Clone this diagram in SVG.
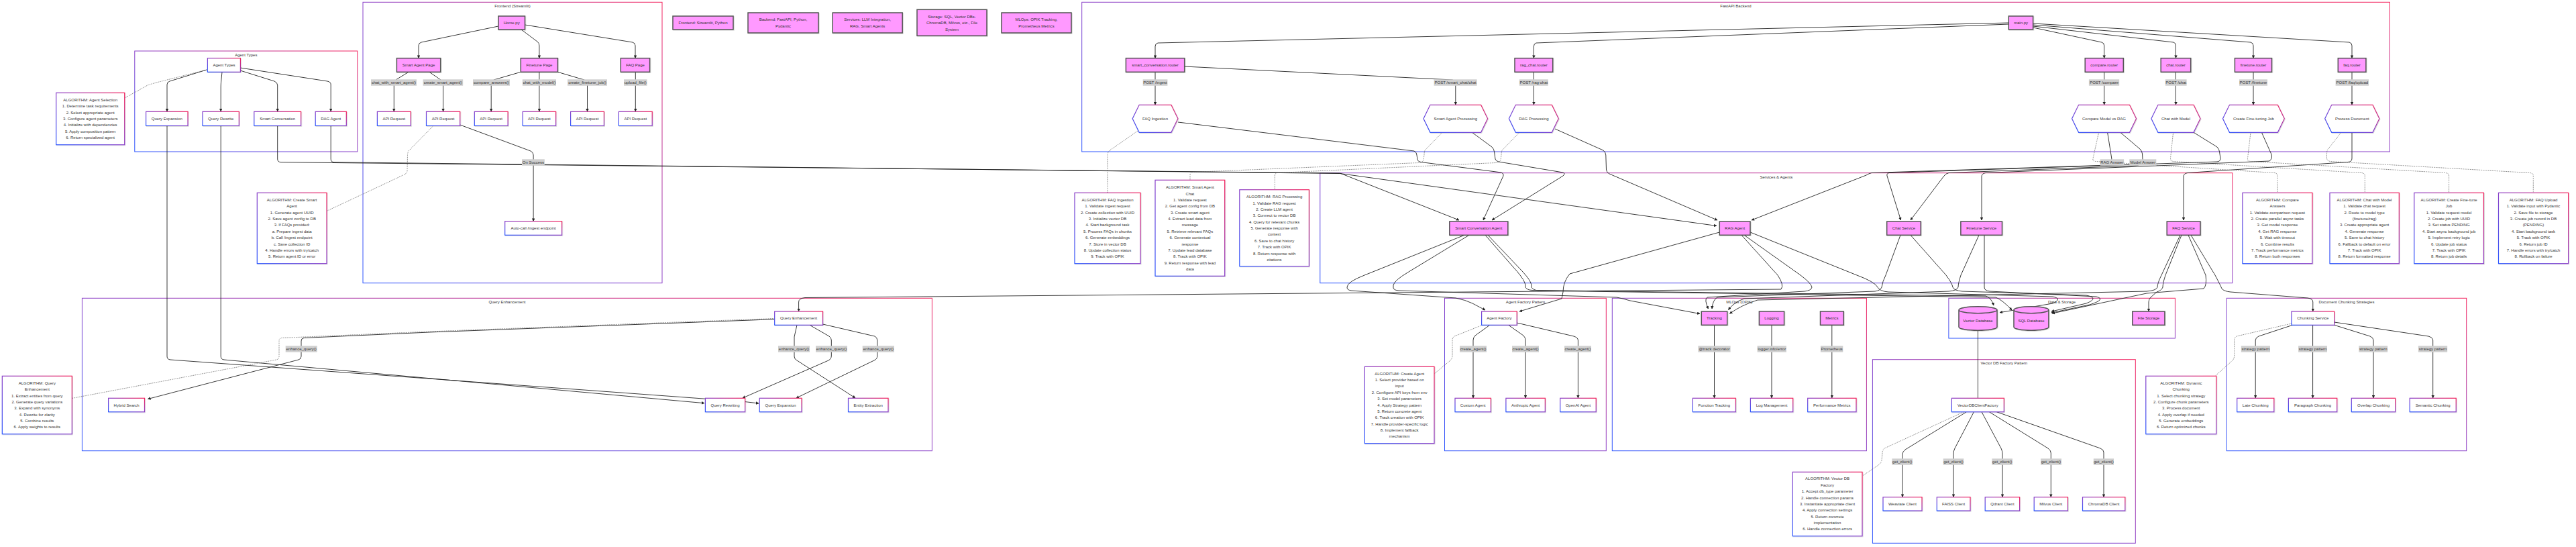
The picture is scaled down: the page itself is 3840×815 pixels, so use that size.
<svg xmlns="http://www.w3.org/2000/svg" width="3840" height="815" viewBox="0 0 3840 815">
<defs>
<linearGradient id="g" x1="0" y1="1" x2="1" y2="0"><stop offset="0" stop-color="#2b55ff"/><stop offset="0.5" stop-color="#8a3fc8"/><stop offset="1" stop-color="#f4215c"/></linearGradient>
<marker id="a" viewBox="0 0 10 10" refX="9" refY="5" markerWidth="4.5" markerHeight="4.5" markerUnits="userSpaceOnUse" orient="auto"><path d="M0,0L10,5L0,10z" fill="#222"/></marker>
<filter id="sh" x="-10%" y="-10%" width="130%" height="140%"><feDropShadow dx="0.8" dy="0.8" stdDeviation="0.6" flood-color="#000" flood-opacity="0.18"/></filter>
</defs>
<style>
.t{font-family:"Liberation Sans",Arial,sans-serif;font-size:6px;fill:#333;text-anchor:middle;dominant-baseline:central}
.cl{fill:#fff;stroke:url(#g);stroke-width:1}
.n{fill:#fff;stroke:url(#g);stroke-width:1.2;filter:url(#sh)}
.p{fill:#ff99ff;stroke:#555;stroke-width:1.5;filter:url(#sh)}
.e{fill:none;stroke:#222;stroke-width:0.9;marker-end:url(#a)}
.l{fill:none;stroke:#222;stroke-width:0.9}
.d{fill:none;stroke:#555;stroke-width:0.7;stroke-dasharray:1.5 1.2}
.lb{fill:#cfcfcf}
</style>
<rect width="3840" height="815" fill="#fff"/>

<g id="clusters">
<g id="cl-agent-types"><rect class="cl" x="200.8" y="76" width="332" height="150"/><text class="t" x="366.8" y="81.5">Agent Types</text></g>
<g id="cl-frontend"><rect class="cl" x="541" y="3.3" width="446" height="418.4"/><text class="t" x="764" y="8.5">Frontend (Streamlit)</text></g>
<g id="cl-backend"><rect class="cl" x="1612.7" y="3.3" width="1949.7" height="222.7"/><text class="t" x="2587.5" y="8.5">FastAPI Backend</text></g>
<g id="cl-services"><rect class="cl" x="1967.8" y="257.7" width="1360" height="164"/><text class="t" x="2647.8" y="263.5">Services &amp; Agents</text></g>
<g id="cl-qe"><rect class="cl" x="122.4" y="444.3" width="1267" height="227.4"/><text class="t" x="755.9" y="449.5">Query Enhancement</text></g>
<g id="cl-af"><rect class="cl" x="2153.5" y="444.3" width="240.8" height="227.4"/><text class="t" x="2273.9" y="449.5">Agent Factory Pattern</text></g>
<g id="cl-mlops"><rect class="cl" x="2403.3" y="444.3" width="379.1" height="227.4"/><text class="t" x="2592.9" y="449.5">MLOps (OPIK)</text></g>
<g id="cl-data"><rect class="cl" x="2904.9" y="444.3" width="337.5" height="59.7"/><text class="t" x="3073.6" y="449.5">Data &amp; Storage</text></g>
<g id="cl-vdbf"><rect class="cl" x="2791.4" y="535.7" width="391.9" height="273.6"/><text class="t" x="2987.3" y="541">Vector DB Factory Pattern</text></g>
<g id="cl-chunk"><rect class="cl" x="3319.2" y="444.3" width="357.5" height="227.4"/><text class="t" x="3497.9" y="449.5">Document Chunking Strategies</text></g>
</g>

<g id="edges">
<!-- Agent Types -->
<path class="e" d="M308,104 L253,121 Q249,122 249,126 L249,166"/>
<path class="e" d="M331,107.3 L329.4,124 Q329.2,127 329.2,130 L329.2,166"/>
<path class="e" d="M358,105 L409,121 Q413.7,123 413.7,127 L413.7,166"/>
<path class="e" d="M358,101 L488,121 Q493.2,122 493.2,126 L493.2,166"/>
<path class="d" d="M308,104 L245,120 Q225,125 220,127 L186,146"/>
<!-- Frontend -->
<path class="e" d="M743,39 L628,63 Q624,64 624,68 L624,86.5"/>
<path class="e" d="M777,44 L801,62 Q803.9,64 803.9,68 L803.9,86.5"/>
<path class="e" d="M782.5,37 L943,63 Q947,64 947,68 L947,86.5"/>
<path class="e" d="M609,107.3 L590,119 Q587.3,121 587.3,125 L587.3,166"/>
<path class="e" d="M640,107.3 L657,119 Q660.6,121 660.6,125 L660.6,166"/>
<path class="e" d="M776.3,107.3 L736,119 Q732.2,121 732.2,125 L732.2,166"/>
<path class="e" d="M803.9,107.3 L803.9,166"/>
<path class="e" d="M831.4,107.3 L871,119 Q875.5,121 875.5,125 L875.5,166"/>
<path class="e" d="M947.3,107.3 L947.3,166"/>
<path class="e" d="M685.7,186 L791,225 Q795.1,227 795.1,231 L795.1,329.5"/>
<path class="d" d="M646,187.3 L609,225 Q607.5,228 607.5,231 L607,255 Q606.5,258 603,260 L488,314"/>
<!-- Backend -->
<path class="e" d="M2994.3,34 L1726,64 Q1722,65 1722,69 L1722,86.5"/>
<path class="e" d="M2994.3,36 L2290,64 Q2286.4,65 2286.4,69 L2286.4,86.5"/>
<path class="e" d="M3030.6,41 L3133,63 Q3136.7,64 3136.7,68 L3136.7,86.5"/>
<path class="e" d="M3030.6,39 L3240,63 Q3243.5,64 3243.5,68 L3243.5,86.5"/>
<path class="e" d="M3030.6,37 L3355,63 Q3359,64 3359,68 L3359,86.5"/>
<path class="e" d="M3030.6,35 L3502,63 Q3506,64 3506,68 L3506,86.5"/>
<path class="e" d="M1722,107.3 L1722,156"/>
<path class="e" d="M1765.7,99 L2165,119 Q2169.8,120 2169.8,124 L2169.8,156"/>
<path class="e" d="M2286.4,107.3 L2286.4,156"/>
<path class="e" d="M3136.7,107.3 L3136.7,156"/>
<path class="e" d="M3243.5,107.3 L3243.5,156"/>
<path class="e" d="M3359,107.3 L3359,156"/>
<path class="e" d="M3506,107.3 L3506,156"/>
<!-- to services -->
<path class="e" d="M1756,182 L2108,225 Q2112,227 2112,231 L2113,238 Q2114,241 2118,241.5 L2238,257 Q2242,258.5 2241,262 L2211,328"/>
<path class="e" d="M2194,197 L2224,219 Q2227,222 2227.5,226 L2229,237 Q2230,240 2234,241 L2330,257 Q2334,258.5 2330,262 L2224,328"/>
<path class="e" d="M2318,192 L2390,224 Q2393.5,226.7 2393.8,231 L2394.5,253 Q2395,257 2399,259 L2560,328"/>
<path class="e" d="M413.7,187.3 L413.7,237 Q413.7,241.5 419,241.7 L1997.5,258 L2175,328"/>
<path class="e" d="M493.2,187.3 L493.2,237 Q493.2,241.5 498,241.7 L1997.5,258.5 L2559,336.5"/>
<path class="e" d="M3141.6,197.3 L3147.8,236 L3148,242 Q3140,246 3130,246.5 L2790,257.5 Q2786,258.5 2782,261 L2611,328"/>
<path class="e" d="M3160.8,197.3 L3190,222 Q3193,225 3193.5,229 L3194.3,242 Q3190,247 3180,247 L2905,257.5 Q2900.8,258.5 2898,262 L2848,328"/>
<path class="e" d="M3270,197.3 L3305,219 Q3308,222 3308.5,226 L3310,236 Q3310,240.5 3305,241 L2816,257.5 Q2812,258.5 2813,262 L2833.5,328"/>
<path class="e" d="M3371.4,197.3 L3386,230 Q3388,236 3383,240 L2960,257.5 Q2954,258.5 2954,263 L2954,328"/>
<path class="e" d="M3506,197.3 L3506,236 Q3506,241 3500,241.5 L3261,257.5 Q3255,258.5 3255,263 L3255,328"/>
<!-- dotted to notes (backend) -->
<path class="d" d="M1696,195 L1653,225 Q1651,228 1651,231 L1651,287.3"/>
<path class="d" d="M2150,197.3 L2124,224 Q2123,227 2123,231 L2122,238 Q2121,242 2115,242.5 L1778,256.5 Q1774,257 1774,261 L1774,268.3"/>
<path class="d" d="M2265,197.3 L2239,224 Q2238,227 2238,231 L2237,238 Q2236,242 2230,242.5 L1904,257.5 Q1900.4,258 1900.4,262 L1900.4,282.7"/>
<path class="d" d="M3128.6,197.3 L3120,236 Q3119,240 3124,240.5 L3390,257.5 Q3395,258 3395,262 L3395,287.3"/>
<path class="d" d="M3239.6,197.3 L3235.5,236 Q3235.5,240 3240,240.5 L3520,257.5 Q3525.3,258 3525.3,262 L3525.3,287.3"/>
<path class="d" d="M3355,197.3 L3350.5,236 Q3350,240 3355,240.5 L3645,257.5 Q3650.6,258 3650.6,262 L3650.6,287.3"/>
<path class="d" d="M3489.8,197.3 L3469,224 Q3468.5,227 3468.5,231 L3468.5,236 Q3469,240 3474,240.5 L3771,257.5 Q3776.3,258 3776.3,262 L3776.3,287.3"/>
<!-- Query enhancement -->
<path class="e" d="M249,187.3 L249,531 Q249,535.5 254,536 L1110,598.5 L1131,601"/>
<path class="e" d="M329.2,187.3 L329.2,531 Q329.2,535.5 334,536 L1050,600.7"/>
<path class="e" d="M1154.7,475.7 L640,495 L453,503.5 Q449,504 449,508 L449,531 Q449,535 445,536 L220.5,594.5"/>
<path class="e" d="M1188,484.3 L1184,502 Q1184,505 1184,508 L1184,531 Q1184,535 1188,537 L1275,593"/>
<path class="e" d="M1207,484.3 L1236,501 Q1239.3,503 1239.3,507 L1239.3,530 Q1239.3,535 1235,537 L1107,593"/>
<path class="e" d="M1226.5,483 L1304,501 Q1307.8,503 1307.8,507 L1307.8,530 Q1307.8,535 1303,537 L1187,593"/>
<path class="d" d="M1154.7,474.5 L640,494 L420,503.5 Q416,504 416,508 L416,531 Q416,535 412,536 L108,593.3"/>
<path class="e" d="M2596,350.3 L2650,410 Q2660,425 2655,431 L1200,443.5 Q1190.6,444.5 1190.6,450 L1190.6,463.8"/>
<!-- services to bottom clusters -->
<path class="e" d="M2183,350.3 L2034,410 Q2008,420 2008,428 Q2008,432 2014,433 L2170,444 Q2185,447 2195,452 L2214,462"/>
<path class="e" d="M2190,350.3 L2100,405 Q2078,418 2077,425 L2077,429 Q2078,432.5 2085,433 L2410,443 Q2420,445 2430,448 L2534,467.5"/>
<path class="e" d="M2214,350.3 L2262,405 Q2273,418 2274,425 L2274,428 Q2276,432 2284,432.5 L2960,441 Q2968,443 2972,455"/>
<path class="e" d="M2218,350.3 L2270,405 Q2282,418 2283,425 L2283,428 Q2285,432 2293,433 L2975,443 Q2985,447 2999,462"/>
<path class="e" d="M2563.3,346 L2340,408 Q2330,420 2330,435 L2328,445 L2265,464"/>
<path class="e" d="M2600,350.3 L2684,410 Q2700,422 2701,428 Q2700,433 2690,434 L2545,443 Q2540,446 2546.5,460"/>
<path class="e" d="M2609,346 L2768,410 Q2795,420 2799,428 Q2802,434 2815,435 L3060,442 Q3075,445 3060,452 L2981,465.7"/>
<path class="e" d="M2833,350.3 L2811,410 Q2806,420 2805,428 Q2803,433 2795,434 L2560,443 Q2553,447 2552,460"/>
<path class="e" d="M2848,350.3 L2901,410 Q2910,422 2911,428 Q2913,433 2925,434 L3110,440 Q3130,444 3110,452 L3058,464"/>
<path class="e" d="M2950,350.3 L2923,410 Q2919,422 2919,428 Q2917,433 2905,434 L2600,445 Q2585,450 2576.5,461.7"/>
<path class="e" d="M2958,350.3 L2958,428 Q2958,433 2966,434 L3125,442 Q3140,446 3115,454 L3058,466"/>
<path class="e" d="M3250,350.3 L3222,410 Q3216,422 3216,428 Q3214,433 3200,434 L2620,447 Q2595,455 2578.5,467.3"/>
<path class="e" d="M3252,350.3 L3228,410 Q3224,422 3224,428 Q3222,433 3215,435 L3206,443 Q3203,446 3203,450 L3203,463.8"/>
<path class="e" d="M3262,350.3 L3288,410 Q3290,425 3285,430 L3200,437 L3059,467"/>
<path class="e" d="M3266,350.3 L3302,410 Q3310,425 3312,430 Q3315,434 3325,435 L3440,444 Q3447.8,445 3447.8,450 L3447.8,463.8"/>
<!-- agent factory -->
<path class="e" d="M2220.8,484.3 L2199,500 Q2196,503 2196,507 L2196,593"/>
<path class="e" d="M2248.6,484.3 L2271,500 Q2274,503 2274,507 L2274,593"/>
<path class="e" d="M2261.2,481 L2346,501 Q2352.4,503 2352.4,507 L2352.4,593"/>
<path class="d" d="M2209.8,484.3 L2168,501 Q2165,503 2165,507 L2165,530 Q2165,534 2162,537 L2138,557"/>
<!-- mlops -->
<path class="e" d="M2555.5,484.3 L2555.5,593"/>
<path class="e" d="M2641,484.3 L2641,593"/>
<path class="e" d="M2730.8,484.3 L2730.8,593"/>
<!-- vector db -->
<path class="l" d="M2948.5,492.3 L2948.5,593.3"/>
<path class="e" d="M2931.4,613.7 L2840,670 Q2836,673 2836,677 L2836,740.5"/>
<path class="e" d="M2942.4,613.7 L2914,668 Q2912,672 2912,676 L2912,740.5"/>
<path class="e" d="M2954,613.7 L2983,668 Q2985,672 2985,676 L2985,740.5"/>
<path class="e" d="M2965.3,613.7 L3053,668 Q3057.3,671 3057.3,675 L3057.3,740.5"/>
<path class="e" d="M2976.3,613.7 L3131,668 Q3136,670 3136,674 L3136,740.5"/>
<path class="d" d="M2927.3,613.7 L2809,668 Q2806,671 2806,675 L2805,686 Q2804,690 2800,693 L2776.3,709"/>
<!-- chunking -->
<path class="e" d="M3417.6,484.3 L3367,501 Q3362.2,503 3362.2,507 L3362.2,593"/>
<path class="e" d="M3447.6,484.3 L3447.6,593"/>
<path class="e" d="M3479.6,484.3 L3533,501 Q3538,503 3538,507 L3538,593"/>
<path class="e" d="M3479.6,480 L3620,501 Q3626.7,503 3626.7,507 L3626.7,593"/>
<path class="d" d="M3416,482 L3334,501 Q3330.6,503 3330.6,507 L3330.6,530 Q3330.6,535 3327,538 L3302,560.3"/>
</g>

<g id="edge-labels">
<rect class="lb" x="553" y="118.3" width="68" height="9.4"/><text class="t" x="587" y="123">chat_with_smart_agent()</text>
<rect class="lb" x="630.6" y="118.3" width="59.6" height="9.4"/><text class="t" x="660.4" y="123">create_smart_agent()</text>
<rect class="lb" x="705" y="118.3" width="55" height="9.4"/><text class="t" x="732.5" y="123">compare_answers()</text>
<rect class="lb" x="778.8" y="118.3" width="50.2" height="9.4"/><text class="t" x="803.9" y="123">chat_with_model()</text>
<rect class="lb" x="846" y="118.3" width="59" height="9.4"/><text class="t" x="875.5" y="123">create_finetune_job()</text>
<rect class="lb" x="930" y="118.3" width="34.5" height="9.4"/><text class="t" x="947.3" y="123">upload_file()</text>
<rect class="lb" x="778" y="237.3" width="33.8" height="9.4"/><text class="t" x="794.9" y="242">On Success</text>
<rect class="lb" x="1703.7" y="118.3" width="36.7" height="9.4"/><text class="t" x="1722" y="123">POST /ingest</text>
<rect class="lb" x="2137.6" y="118.3" width="64" height="9.4"/><text class="t" x="2169.6" y="123">POST /smart_chat/chat</text>
<rect class="lb" x="2264.9" y="118.3" width="42.9" height="9.4"/><text class="t" x="2286.4" y="123">POST /rag-chat</text>
<rect class="lb" x="3113.9" y="118.3" width="45.3" height="9.4"/><text class="t" x="3136.6" y="123">POST /compare</text>
<rect class="lb" x="3227.8" y="118.3" width="31.8" height="9.4"/><text class="t" x="3243.7" y="123">POST /chat</text>
<rect class="lb" x="3338" y="118.3" width="42" height="9.4"/><text class="t" x="3359" y="123">POST /finetune</text>
<rect class="lb" x="3481.6" y="118.3" width="49.4" height="9.4"/><text class="t" x="3506.3" y="123">POST /faq/upload</text>
<rect class="lb" x="3130.6" y="237.3" width="35.5" height="9.4"/><text class="t" x="3148.3" y="242">RAG Answer</text>
<rect class="lb" x="3174.3" y="237.3" width="40" height="9.4"/><text class="t" x="3194.3" y="242">Model Answer</text>
<rect class="lb" x="425.7" y="515.3" width="47" height="9.4"/><text class="t" x="449.2" y="520">enhance_query()</text>
<rect class="lb" x="1160" y="515.3" width="47" height="9.4"/><text class="t" x="1183.5" y="520">enhance_query()</text>
<rect class="lb" x="1216" y="515.3" width="47" height="9.4"/><text class="t" x="1239.5" y="520">enhance_query()</text>
<rect class="lb" x="1285.7" y="515.3" width="47.3" height="9.4"/><text class="t" x="1309.4" y="520">enhance_query()</text>
<rect class="lb" x="2176" y="515.3" width="40" height="9.4"/><text class="t" x="2196" y="520">create_agent()</text>
<rect class="lb" x="2254" y="515.3" width="40" height="9.4"/><text class="t" x="2274" y="520">create_agent()</text>
<rect class="lb" x="2332" y="515.3" width="40" height="9.4"/><text class="t" x="2352" y="520">create_agent()</text>
<rect class="lb" x="2531.4" y="515.3" width="48.2" height="9.4"/><text class="t" x="2555.5" y="520">@track decorator</text>
<rect class="lb" x="2619.6" y="515.3" width="43.3" height="9.4"/><text class="t" x="2641.2" y="520">logger.info/error</text>
<rect class="lb" x="2713.9" y="515.3" width="33.4" height="9.4"/><text class="t" x="2730.6" y="520">Prometheus</text>
<rect class="lb" x="3340.8" y="515.3" width="43.2" height="9.4"/><text class="t" x="3362.4" y="520">strategy pattern</text>
<rect class="lb" x="3426.1" y="515.3" width="42.9" height="9.4"/><text class="t" x="3447.6" y="520">strategy pattern</text>
<rect class="lb" x="3516.3" y="515.3" width="42.9" height="9.4"/><text class="t" x="3537.8" y="520">strategy pattern</text>
<rect class="lb" x="3604.9" y="515.3" width="43.3" height="9.4"/><text class="t" x="3626.6" y="520">strategy pattern</text>
<rect class="lb" x="2820.4" y="683.3" width="30.6" height="9.4"/><text class="t" x="2835.7" y="688">get_client()</text>
<rect class="lb" x="2896.7" y="683.3" width="30.6" height="9.4"/><text class="t" x="2912" y="688">get_client()</text>
<rect class="lb" x="2969.4" y="683.3" width="30.6" height="9.4"/><text class="t" x="2984.7" y="688">get_client()</text>
<rect class="lb" x="3042" y="683.3" width="31" height="9.4"/><text class="t" x="3057.5" y="688">get_client()</text>
<rect class="lb" x="3120.8" y="683.3" width="30.2" height="9.4"/><text class="t" x="3135.9" y="688">get_client()</text>
</g>

<g id="legend">
<g id="lg-frontend"><rect class="p" x="1003" y="24" width="90" height="20"/><text class="t" x="1048" y="34">Frontend: Streamlit, Python</text></g>
<g id="lg-backend"><rect class="p" x="1115" y="19" width="105" height="30"/><text class="t"><tspan x="1167.5" y="29">Backend: FastAPI, Python,</tspan><tspan x="1167.5" y="39">Pydantic</tspan></text></g>
<g id="lg-services"><rect class="p" x="1241.2" y="19" width="104" height="30"/><text class="t"><tspan x="1293.2" y="29">Services: LLM Integration,</tspan><tspan x="1293.2" y="39">RAG, Smart Agents</tspan></text></g>
<g id="lg-storage"><rect class="p" x="1367" y="14.3" width="104" height="39"/><text class="t"><tspan x="1419" y="25">Storage: SQL, Vector DBs-</tspan><tspan x="1419" y="34">ChromaDB, Milvus, etc., File</tspan><tspan x="1419" y="44">System</tspan></text></g>
<g id="lg-mlops"><rect class="p" x="1493" y="19" width="104" height="30"/><text class="t"><tspan x="1545" y="29">MLOps: OPIK Tracking,</tspan><tspan x="1545" y="39">Prometheus Metrics</tspan></text></g>
</g>

<g id="nodes">
<g id="at-root"><rect class="n" x="309.4" y="86.7" width="49" height="20.6"/><text class="t" x="334" y="97">Agent Types</text></g>
<g id="at-qexp"><rect class="n" x="217.6" y="166.3" width="62.4" height="21"/><text class="t" x="248.8" y="176.8">Query Expansion</text></g>
<g id="at-qrw"><rect class="n" x="302" y="166.3" width="54.3" height="21"/><text class="t" x="329.2" y="176.8">Query Rewrite</text></g>
<g id="at-sc"><rect class="n" x="378.8" y="166.3" width="69.8" height="21"/><text class="t" x="413.7" y="176.8">Smart Conversation</text></g>
<g id="at-rag"><rect class="n" x="470.2" y="166.3" width="46.1" height="21"/><text class="t" x="493.2" y="176.8">RAG Agent</text></g>

<g id="fe-home"><rect class="p" x="742.9" y="24" width="39.6" height="20"/><text class="t" x="762.7" y="34">Home.py</text></g>
<g id="fe-sap"><rect class="p" x="591.4" y="86.7" width="65.3" height="20.6"/><text class="t" x="624" y="97">Smart Agent Page</text></g>
<g id="fe-ftp"><rect class="p" x="776.3" y="86.7" width="55.1" height="20.6"/><text class="t" x="803.9" y="97">Finetune Page</text></g>
<g id="fe-faqp"><rect class="p" x="925.3" y="86.7" width="43.3" height="20.6"/><text class="t" x="947" y="97">FAQ Page</text></g>
<g id="fe-api1"><rect class="n" x="562.4" y="166.3" width="49.8" height="21"/><text class="t" x="587.3" y="176.8">API Request</text></g>
<g id="fe-api2"><rect class="n" x="635.5" y="166.3" width="50.2" height="21"/><text class="t" x="660.6" y="176.8">API Request</text></g>
<g id="fe-api3"><rect class="n" x="707.3" y="166.3" width="49.8" height="21"/><text class="t" x="732.2" y="176.8">API Request</text></g>
<g id="fe-api4"><rect class="n" x="779.2" y="166.3" width="49.4" height="21"/><text class="t" x="803.9" y="176.8">API Request</text></g>
<g id="fe-api5"><rect class="n" x="850.6" y="166.3" width="49.8" height="21"/><text class="t" x="875.5" y="176.8">API Request</text></g>
<g id="fe-api6"><rect class="n" x="922.4" y="166.3" width="49.8" height="21"/><text class="t" x="947.3" y="176.8">API Request</text></g>
<g id="fe-autocall"><rect class="n" x="752.7" y="329.7" width="84.9" height="20.6"/><text class="t" x="795.1" y="340">Auto-call /ingest endpoint</text></g>

<g id="be-main"><rect class="p" x="2994.3" y="24" width="36.3" height="20"/><text class="t" x="3012.5" y="34">main.py</text></g>
<g id="be-scr"><rect class="p" x="1678.4" y="86.7" width="87.3" height="20.6"/><text class="t" x="1722" y="97">smart_conversation.router</text></g>
<g id="be-rcr"><rect class="p" x="2258" y="86.7" width="56.7" height="20.6"/><text class="t" x="2286.4" y="97">rag_chat.router</text></g>
<g id="be-cmpr"><rect class="p" x="3108.2" y="86.7" width="57.1" height="20.6"/><text class="t" x="3136.7" y="97">compare.router</text></g>
<g id="be-chr"><rect class="p" x="3221.2" y="86.7" width="44.5" height="20.6"/><text class="t" x="3243.5" y="97">chat.router</text></g>
<g id="be-ftr"><rect class="p" x="3331.4" y="86.7" width="55.1" height="20.6"/><text class="t" x="3359" y="97">finetune.router</text></g>
<g id="be-faqr"><rect class="p" x="3485.3" y="86.7" width="41.6" height="20.6"/><text class="t" x="3506" y="97">faq.router</text></g>
<g id="hx-faqi"><polygon class="n" points="1698.2,156.3 1745.9,156.3 1755.9,176.8 1745.9,197.3 1698.2,197.3 1688.2,176.8"/><text class="t" x="1722" y="176.8">FAQ Ingestion</text></g>
<g id="hx-sap"><polygon class="n" points="2132,156.3 2207.6,156.3 2217.6,176.8 2207.6,197.3 2132,197.3 2122,176.8"/><text class="t" x="2169.8" y="176.8">Smart Agent Processing</text></g>
<g id="hx-rag"><polygon class="n" points="2259.4,156.3 2313.3,156.3 2323.3,176.8 2313.3,197.3 2259.4,197.3 2249.4,176.8"/><text class="t" x="2286.4" y="176.8">RAG Processing</text></g>
<g id="hx-cmp"><polygon class="n" points="3098.6,156.3 3174.5,156.3 3184.5,176.8 3174.5,197.3 3098.6,197.3 3088.6,176.8"/><text class="t" x="3136.5" y="176.8">Compare Model vs RAG</text></g>
<g id="hx-chat"><polygon class="n" points="3216.9,156.3 3270,156.3 3280,176.8 3270,197.3 3216.9,197.3 3206.9,176.8"/><text class="t" x="3243.5" y="176.8">Chat with Model</text></g>
<g id="hx-ft"><polygon class="n" points="3323.5,156.3 3395.3,156.3 3405.3,176.8 3395.3,197.3 3323.5,197.3 3313.5,176.8"/><text class="t" x="3359.4" y="176.8">Create Fine-tuning Job</text></g>
<g id="hx-doc"><polygon class="n" points="3475.7,156.3 3536.9,156.3 3546.9,176.8 3536.9,197.3 3475.7,197.3 3465.7,176.8"/><text class="t" x="3506.3" y="176.8">Process Document</text></g>

<g id="sv-sca"><rect class="p" x="2160.8" y="330" width="87" height="20.3"/><text class="t" x="2204.3" y="340.2">Smart Conversation Agent</text></g>
<g id="sv-rag"><rect class="p" x="2563.3" y="330" width="45.7" height="20.3"/><text class="t" x="2586.1" y="340.2">RAG Agent</text></g>
<g id="sv-chat"><rect class="p" x="2812.7" y="330" width="50.6" height="20.3"/><text class="t" x="2838" y="340.2">Chat Service</text></g>
<g id="sv-ft"><rect class="p" x="2922.9" y="330" width="61.6" height="20.3"/><text class="t" x="2953.7" y="340.2">Finetune Service</text></g>
<g id="sv-faq"><rect class="p" x="3230.2" y="330" width="49.8" height="20.3"/><text class="t" x="3255.1" y="340.2">FAQ Service</text></g>

<g id="qe-root"><rect class="n" x="1154.7" y="464" width="71.8" height="20.3"/><text class="t" x="1190.6" y="474.2">Query Enhancement</text></g>
<g id="qe-hybrid"><rect class="n" x="161.6" y="593.3" width="53.9" height="20.4"/><text class="t" x="188.6" y="603.5">Hybrid Search</text></g>
<g id="qe-rw"><rect class="n" x="1051.4" y="593.3" width="59.2" height="20.4"/><text class="t" x="1081" y="603.5">Query Rewriting</text></g>
<g id="qe-exp"><rect class="n" x="1132.2" y="593.3" width="62.8" height="20.4"/><text class="t" x="1163.6" y="603.5">Query Expansion</text></g>
<g id="qe-ent"><rect class="n" x="1264.5" y="593.3" width="59.5" height="20.4"/><text class="t" x="1294.2" y="603.5">Entity Extraction</text></g>

<g id="af-root"><rect class="n" x="2208.6" y="464" width="52.6" height="20.3"/><text class="t" x="2234.9" y="474.2">Agent Factory</text></g>
<g id="af-custom"><rect class="n" x="2169" y="593.3" width="53.4" height="20.4"/><text class="t" x="2195.7" y="603.5">Custom Agent</text></g>
<g id="af-anth"><rect class="n" x="2244.9" y="593.3" width="58.4" height="20.4"/><text class="t" x="2274.1" y="603.5">Anthropic Agent</text></g>
<g id="af-openai"><rect class="n" x="2325.7" y="593.3" width="53.5" height="20.4"/><text class="t" x="2352.4" y="603.5">OpenAI Agent</text></g>

<g id="ml-track"><rect class="p" x="2536.3" y="464" width="38.4" height="20.3"/><text class="t" x="2555.5" y="474.2">Tracking</text></g>
<g id="ml-log"><rect class="p" x="2622.4" y="464" width="37.2" height="20.3"/><text class="t" x="2641" y="474.2">Logging</text></g>
<g id="ml-met"><rect class="p" x="2713.5" y="464" width="34.7" height="20.3"/><text class="t" x="2730.8" y="474.2">Metrics</text></g>
<g id="ml-ft"><rect class="n" x="2523.3" y="593.3" width="64" height="20.4"/><text class="t" x="2555.3" y="603.5">Function Tracking</text></g>
<g id="ml-lm"><rect class="n" x="2609.4" y="593.3" width="63.3" height="20.4"/><text class="t" x="2641" y="603.5">Log Management</text></g>
<g id="ml-pm"><rect class="n" x="2694.7" y="593.3" width="72.3" height="20.4"/><text class="t" x="2730.8" y="603.5">Performance Metrics</text></g>

<g id="ds-vdb"><path class="p" d="M2920,461.7 a28.5,5 0 0 0 57,0 a28.5,5 0 0 0 -57,0 l0,25.6 a28.5,5 0 0 0 57,0 l0,-25.6"/><text class="t" x="2948.5" y="477.7">Vector Database</text></g>
<g id="ds-sql"><path class="p" d="M3002,461.7 a25.95,5 0 0 0 51.9,0 a25.95,5 0 0 0 -51.9,0 l0,25.6 a25.95,5 0 0 0 51.9,0 l0,-25.6"/><text class="t" x="3028" y="477.7">SQL Database</text></g>
<g id="ds-file"><rect class="p" x="3178.8" y="464" width="48.1" height="20.3"/><text class="t" x="3202.9" y="474.2">File Storage</text></g>

<g id="vf-root"><rect class="n" x="2909.4" y="593.3" width="77.9" height="20.4"/><text class="t" x="2948.3" y="603.5">VectorDBClientFactory</text></g>
<g id="vf-weav"><rect class="n" x="2807" y="740.7" width="58" height="20.3"/><text class="t" x="2836" y="750.9">Weaviate Client</text></g>
<g id="vf-faiss"><rect class="n" x="2887.3" y="740.7" width="49.7" height="20.3"/><text class="t" x="2912.1" y="750.9">FAISS Client</text></g>
<g id="vf-qdrant"><rect class="n" x="2959.2" y="740.7" width="51.4" height="20.3"/><text class="t" x="2984.9" y="750.9">Qdrant Client</text></g>
<g id="vf-milvus"><rect class="n" x="3032.2" y="740.7" width="50.2" height="20.3"/><text class="t" x="3057.3" y="750.9">Milvus Client</text></g>
<g id="vf-chroma"><rect class="n" x="3104.5" y="740.7" width="63.3" height="20.3"/><text class="t" x="3136.1" y="750.9">ChromaDB Client</text></g>

<g id="ch-root"><rect class="n" x="3416" y="464" width="63.6" height="20.3"/><text class="t" x="3447.8" y="474.2">Chunking Service</text></g>
<g id="ch-late"><rect class="n" x="3334.7" y="593.3" width="55.1" height="20.4"/><text class="t" x="3362.2" y="603.5">Late Chunking</text></g>
<g id="ch-para"><rect class="n" x="3411.4" y="593.3" width="72.3" height="20.4"/><text class="t" x="3447.6" y="603.5">Paragraph Chunking</text></g>
<g id="ch-over"><rect class="n" x="3505.3" y="593.3" width="65.3" height="20.4"/><text class="t" x="3538" y="603.5">Overlap Chunking</text></g>
<g id="ch-sem"><rect class="n" x="3592.2" y="593.3" width="69" height="20.4"/><text class="t" x="3626.7" y="603.5">Semantic Chunking</text></g>
</g>

<g id="notes">
<g id="nt-agent-sel"><rect class="n" x="83.7" y="138.3" width="102" height="77.4"/><text class="t"><tspan x="134.7" y="149">ALGORITHM: Agent Selection</tspan><tspan x="134.7" y="158">1. Determine task requirements</tspan><tspan x="134.7" y="168">2. Select appropriate agent</tspan><tspan x="134.7" y="177">3. Configure agent parameters</tspan><tspan x="134.7" y="186">4. Initialize with dependencies</tspan><tspan x="134.7" y="196">5. Apply composition pattern</tspan><tspan x="134.7" y="205">6. Return specialized agent</tspan></text></g>
<g id="nt-create-smart"><rect class="n" x="383.3" y="287.3" width="103.7" height="105.4"/><text class="t"><tspan x="435.2" y="297.7">ALGORITHM: Create Smart</tspan><tspan x="435.2" y="307">Agent</tspan><tspan x="435.2" y="316.7">1. Generate agent UUID</tspan><tspan x="435.2" y="326">2. Save agent config to DB</tspan><tspan x="435.2" y="335">3. If FAQs provided:</tspan><tspan x="435.2" y="345">a. Prepare ingest data</tspan><tspan x="435.2" y="354">b. Call /ingest endpoint</tspan><tspan x="435.2" y="364">c. Save collection ID</tspan><tspan x="435.2" y="373">4. Handle errors with try/catch</tspan><tspan x="435.2" y="382">5. Return agent ID or error</tspan></text></g>
<g id="nt-faq-ingest"><rect class="n" x="1602" y="287.3" width="98" height="105.4"/><text class="t"><tspan x="1651" y="297.7">ALGORITHM: FAQ Ingestion</tspan><tspan x="1651" y="307">1. Validate ingest request</tspan><tspan x="1651" y="316.7">2. Create collection with UUID</tspan><tspan x="1651" y="326">3. Initialize vector DB</tspan><tspan x="1651" y="335">4. Start background task</tspan><tspan x="1651" y="345">5. Process FAQs in chunks</tspan><tspan x="1651" y="354">6. Generate embeddings</tspan><tspan x="1651" y="364">7. Store in vector DB</tspan><tspan x="1651" y="373">8. Update collection status</tspan><tspan x="1651" y="382">9. Track with OPIK</tspan></text></g>
<g id="nt-smart-chat"><rect class="n" x="1722" y="268.3" width="103.7" height="143"/><text class="t"><tspan x="1773.9" y="279">ALGORITHM: Smart Agent</tspan><tspan x="1773.9" y="289">Chat</tspan><tspan x="1773.9" y="298">1. Validate request</tspan><tspan x="1773.9" y="307">2. Get agent config from DB</tspan><tspan x="1773.9" y="317">3. Create smart agent</tspan><tspan x="1773.9" y="326">4. Extract lead data from</tspan><tspan x="1773.9" y="335">message</tspan><tspan x="1773.9" y="345">5. Retrieve relevant FAQs</tspan><tspan x="1773.9" y="354">6. Generate contextual</tspan><tspan x="1773.9" y="364">response</tspan><tspan x="1773.9" y="373">7. Update lead database</tspan><tspan x="1773.9" y="382">8. Track with OPIK</tspan><tspan x="1773.9" y="392">9. Return response with lead</tspan><tspan x="1773.9" y="401">data</tspan></text></g>
<g id="nt-rag"><rect class="n" x="1847.8" y="282.7" width="103.6" height="114"/><text class="t"><tspan x="1899.6" y="293">ALGORITHM: RAG Processing</tspan><tspan x="1899.6" y="303">1. Validate RAG request</tspan><tspan x="1899.6" y="312">2. Create LLM agent</tspan><tspan x="1899.6" y="321">3. Connect to vector DB</tspan><tspan x="1899.6" y="331">4. Query for relevant chunks</tspan><tspan x="1899.6" y="340">5. Generate response with</tspan><tspan x="1899.6" y="349">context</tspan><tspan x="1899.6" y="359">6. Save to chat history</tspan><tspan x="1899.6" y="368">7. Track with OPIK</tspan><tspan x="1899.6" y="378">8. Return response with</tspan><tspan x="1899.6" y="387">citations</tspan></text></g>
<g id="nt-compare"><rect class="n" x="3342.9" y="287.3" width="104" height="105.4"/><text class="t"><tspan x="3394.9" y="297.7">ALGORITHM: Compare</tspan><tspan x="3394.9" y="307">Answers</tspan><tspan x="3394.9" y="316.7">1. Validate comparison request</tspan><tspan x="3394.9" y="326">2. Create parallel async tasks</tspan><tspan x="3394.9" y="335">3. Get model response</tspan><tspan x="3394.9" y="345">4. Get RAG response</tspan><tspan x="3394.9" y="354">5. Wait with timeout</tspan><tspan x="3394.9" y="364">6. Combine results</tspan><tspan x="3394.9" y="373">7. Track performance metrics</tspan><tspan x="3394.9" y="382">8. Return both responses</tspan></text></g>
<g id="nt-chat"><rect class="n" x="3473" y="287.3" width="103.3" height="105.4"/><text class="t"><tspan x="3524.6" y="297.7">ALGORITHM: Chat with Model</tspan><tspan x="3524.6" y="307">1. Validate chat request</tspan><tspan x="3524.6" y="316.7">2. Route to model type</tspan><tspan x="3524.6" y="326">(finetune/rag)</tspan><tspan x="3524.6" y="335">3. Create appropriate agent</tspan><tspan x="3524.6" y="345">4. Generate response</tspan><tspan x="3524.6" y="354">5. Save to chat history</tspan><tspan x="3524.6" y="364">6. Fallback to default on error</tspan><tspan x="3524.6" y="373">7. Track with OPIK</tspan><tspan x="3524.6" y="382">8. Return formatted response</tspan></text></g>
<g id="nt-ft"><rect class="n" x="3598.8" y="287.3" width="103.6" height="105.4"/><text class="t"><tspan x="3650.6" y="297.7">ALGORITHM: Create Fine-tune</tspan><tspan x="3650.6" y="307">Job</tspan><tspan x="3650.6" y="316.7">1. Validate request model</tspan><tspan x="3650.6" y="326">2. Create job with UUID</tspan><tspan x="3650.6" y="335">3. Set status PENDING</tspan><tspan x="3650.6" y="345">4. Start async background job</tspan><tspan x="3650.6" y="354">5. Implement retry logic</tspan><tspan x="3650.6" y="364">6. Update job status</tspan><tspan x="3650.6" y="373">7. Track with OPIK</tspan><tspan x="3650.6" y="382">8. Return job details</tspan></text></g>
<g id="nt-faq-upload"><rect class="n" x="3724.5" y="287.3" width="104.1" height="105.4"/><text class="t"><tspan x="3776.5" y="297.7">ALGORITHM: FAQ Upload</tspan><tspan x="3776.5" y="307">1. Validate input with Pydantic</tspan><tspan x="3776.5" y="316.7">2. Save file to storage</tspan><tspan x="3776.5" y="326">3. Create job record in DB</tspan><tspan x="3776.5" y="335">(PENDING)</tspan><tspan x="3776.5" y="345">4. Start background task</tspan><tspan x="3776.5" y="354">5. Track with OPIK</tspan><tspan x="3776.5" y="364">6. Return job ID</tspan><tspan x="3776.5" y="373">7. Handle errors with try/catch</tspan><tspan x="3776.5" y="382">8. Rollback on failure</tspan></text></g>
<g id="nt-qe"><rect class="n" x="3.3" y="560.3" width="104" height="86.4"/><text class="t"><tspan x="55.3" y="570.7">ALGORITHM: Query</tspan><tspan x="55.3" y="580">Enhancement</tspan><tspan x="55.3" y="590">1. Extract entities from query</tspan><tspan x="55.3" y="599">2. Generate query variations</tspan><tspan x="55.3" y="608">3. Expand with synonyms</tspan><tspan x="55.3" y="618">4. Rewrite for clarity</tspan><tspan x="55.3" y="627">5. Combine results</tspan><tspan x="55.3" y="636">6. Apply weights to results</tspan></text></g>
<g id="nt-create-agent"><rect class="n" x="2034.3" y="546.3" width="103.7" height="114.4"/><text class="t"><tspan x="2086.2" y="557">ALGORITHM: Create Agent</tspan><tspan x="2086.2" y="566">1. Select provider based on</tspan><tspan x="2086.2" y="575">input</tspan><tspan x="2086.2" y="585">2. Configure API keys from env</tspan><tspan x="2086.2" y="594">3. Set model parameters</tspan><tspan x="2086.2" y="604">4. Apply Strategy pattern</tspan><tspan x="2086.2" y="613">5. Return concrete agent</tspan><tspan x="2086.2" y="622">6. Track creation with OPIK</tspan><tspan x="2086.2" y="632">7. Handle provider-specific logic</tspan><tspan x="2086.2" y="641">8. Implement fallback</tspan><tspan x="2086.2" y="650">mechanism</tspan></text></g>
<g id="nt-vdbf"><rect class="n" x="2672.2" y="703.3" width="103.8" height="95.4"/><text class="t"><tspan x="2724.1" y="713">ALGORITHM: Vector DB</tspan><tspan x="2724.1" y="723">Factory</tspan><tspan x="2724.1" y="732">1. Accept db_type parameter</tspan><tspan x="2724.1" y="742">2. Handle connection params</tspan><tspan x="2724.1" y="751">3. Instantiate appropriate client</tspan><tspan x="2724.1" y="760">4. Apply connection settings</tspan><tspan x="2724.1" y="770">5. Return concrete</tspan><tspan x="2724.1" y="779">implementation</tspan><tspan x="2724.1" y="788">6. Handle connection errors</tspan></text></g>
<g id="nt-chunk"><rect class="n" x="3198.8" y="560.3" width="104.9" height="86.4"/><text class="t"><tspan x="3251.3" y="570.7">ALGORITHM: Dynamic</tspan><tspan x="3251.3" y="580">Chunking</tspan><tspan x="3251.3" y="590">1. Select chunking strategy</tspan><tspan x="3251.3" y="599">2. Configure chunk parameters</tspan><tspan x="3251.3" y="608">3. Process document</tspan><tspan x="3251.3" y="618">4. Apply overlap if needed</tspan><tspan x="3251.3" y="627">5. Generate embeddings</tspan><tspan x="3251.3" y="636">6. Return optimized chunks</tspan></text></g>
</g>
</svg>
